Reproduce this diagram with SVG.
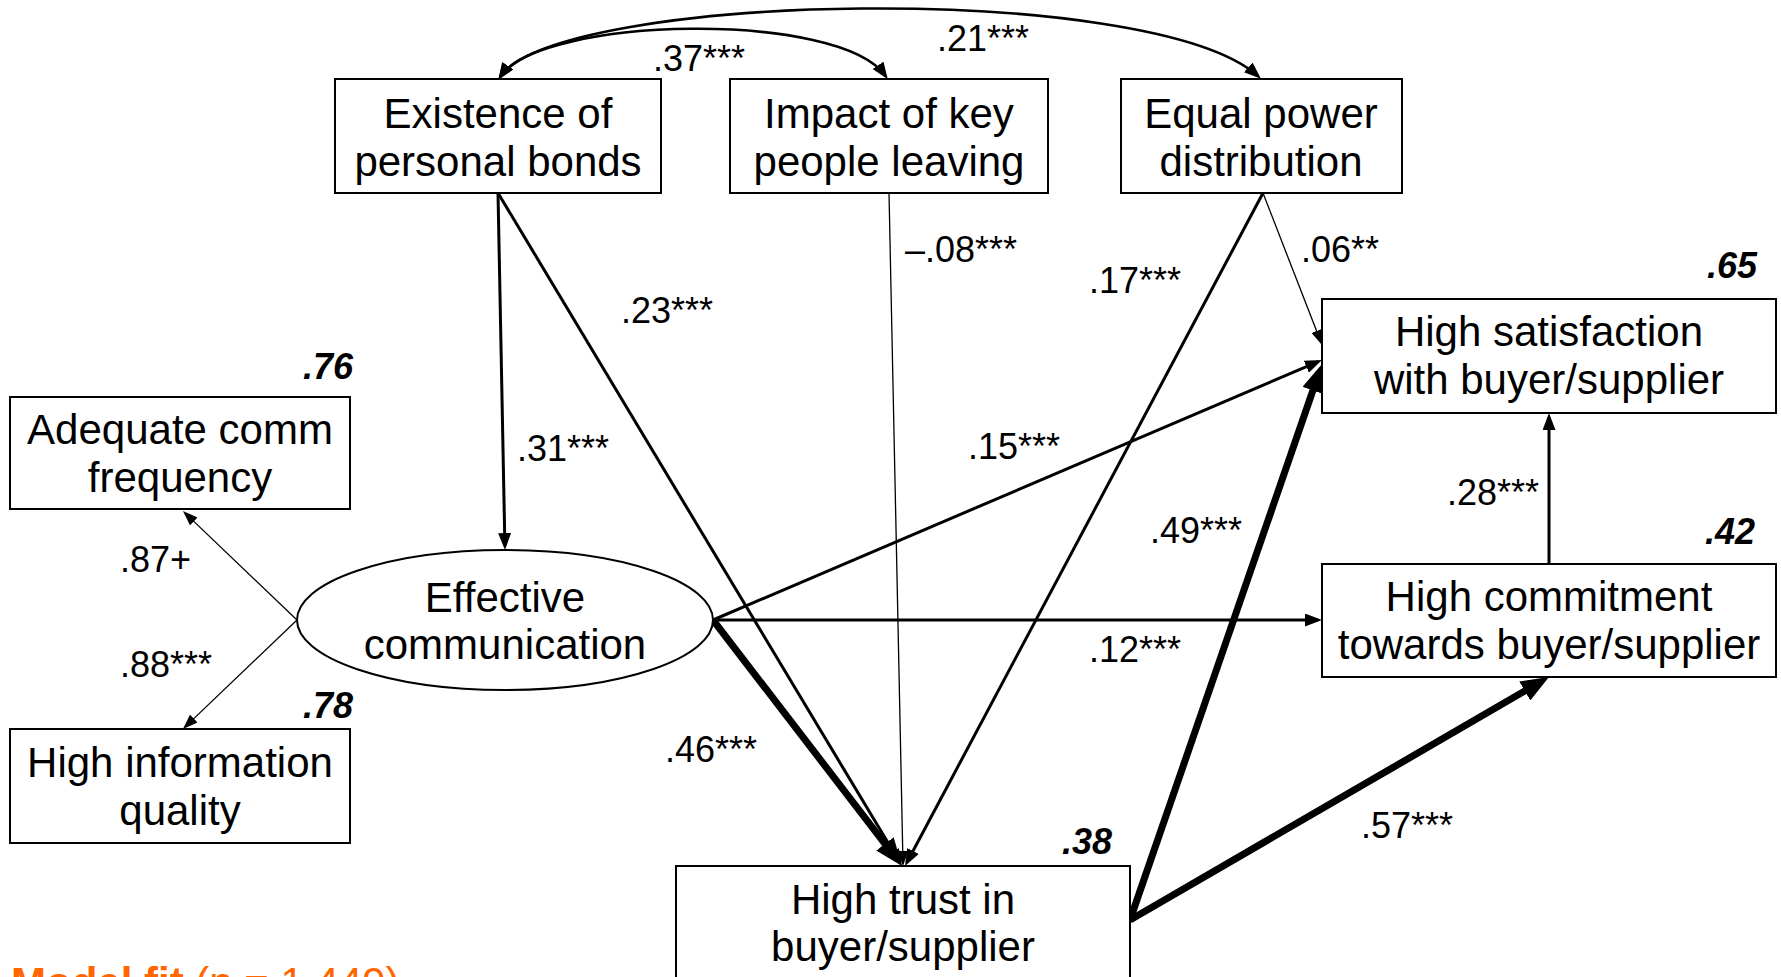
<svg xmlns="http://www.w3.org/2000/svg" width="1781" height="977" viewBox="0 0 1781 977">
  <style>
    .box { fill: #fff; stroke: #000; stroke-width: 2; }
    .t { font-family: "Liberation Sans", Arial, sans-serif; font-size: 42px; text-anchor: middle; fill: #000; }
    .lbl { font-family: "Liberation Sans", Arial, sans-serif; font-size: 36px; fill: #000; }
    .r2 { font-family: "Liberation Sans", Arial, sans-serif; font-size: 36px; font-weight: bold; font-style: italic; text-anchor: end; fill: #000; }
    .thin { fill: none; stroke: #000; stroke-width: 1.3; marker-end: url(#ahS); }
    .mid { fill: none; stroke: #000; stroke-width: 3; marker-end: url(#ahM); }
    .thick { fill: none; stroke: #000; stroke-width: 7; marker-end: url(#ahL); }
    .arc { fill: none; stroke: #000; stroke-width: 2.6; marker-start: url(#ahM); marker-end: url(#ahM); }
    .fit { font-family: "Liberation Sans", Arial, sans-serif; font-size: 42px; fill: #FF6600; }
  </style>
  <defs>
    <marker id="ahS" viewBox="0 0 15 11" refX="13" refY="5.5" markerWidth="15" markerHeight="11" orient="auto" markerUnits="userSpaceOnUse">
      <path d="M0,0 L15,5.5 L0,11 Z" fill="#000"/>
    </marker>
    <marker id="ahM" viewBox="0 0 17 13" refX="13" refY="6.5" markerWidth="17" markerHeight="13" orient="auto-start-reverse" markerUnits="userSpaceOnUse">
      <path d="M0,0 L17,6.5 L0,13 Z" fill="#000"/>
    </marker>
    <marker id="ahL" viewBox="0 0 28 22" refX="19" refY="11" markerWidth="28" markerHeight="22" orient="auto" markerUnits="userSpaceOnUse">
      <path d="M0,0 L28,11 L0,22 Z" fill="#000"/>
    </marker>
  </defs>

  <rect width="1781" height="977" fill="#fff"/>

  <!-- paths between constructs -->
  <g id="connectors">
    <!-- correlations among antecedents -->
    <path class="arc" d="M500.5,76.5 C560,-8 1150,-20 1258,76"/>
    <path class="arc" d="M500.5,76.5 C540,16 840,10 885.5,76"/>
    <!-- measurement paths -->
    <path class="thin" d="M297,620 L184.4,512.4"/>
    <path class="thin" d="M297,620 L184.4,727.6"/>
    <!-- structural paths -->
    <path class="mid" d="M498,193 L504.9,546"/>
    <path class="mid" d="M498,193 L899.9,862.6"/>
    <path class="thin" d="M889,193 L903,864"/>
    <path class="mid" d="M1263,193 L906.9,862.5"/>
    <path class="thin" d="M1263,193 L1321.3,343.1"/>
    <path class="mid" d="M713,620 L1318.3,361.6"/>
    <path class="mid" d="M713,620 L1318,620"/>
    <path class="thick" d="M713,620 L896.5,858.9"/>
    <path class="thick" d="M1130,920 L1319.1,372.5"/>
    <path class="thick" d="M1130,920 L1541.2,681.5"/>
    <path class="mid" d="M1549,564 L1549,417"/>
  </g>

  <g id="personal-bonds">
    <rect class="box" x="335" y="79" width="326" height="114"/>
    <text class="t" x="498" y="128">Existence of</text>
    <text class="t" x="498" y="176">personal bonds</text>
  </g>
  <g id="key-people">
    <rect class="box" x="730" y="79" width="318" height="114"/>
    <text class="t" x="889" y="128">Impact of key</text>
    <text class="t" x="889" y="176">people leaving</text>
  </g>
  <g id="power">
    <rect class="box" x="1121" y="79" width="281" height="114"/>
    <text class="t" x="1261" y="128">Equal power</text>
    <text class="t" x="1261" y="176">distribution</text>
  </g>
  <g id="comm-frequency">
    <rect class="box" x="10" y="397" width="340" height="112"/>
    <text class="t" x="180" y="444">Adequate comm</text>
    <text class="t" x="180" y="492">frequency</text>
  </g>
  <g id="info-quality">
    <rect class="box" x="10" y="729" width="340" height="114"/>
    <text class="t" x="180" y="777">High information</text>
    <text class="t" x="180" y="825">quality</text>
  </g>
  <g id="effective-communication">
    <ellipse cx="505" cy="620" rx="208" ry="70" fill="#fff" stroke="#000" stroke-width="2"/>
    <text class="t" x="505" y="612">Effective</text>
    <text class="t" x="505" y="659">communication</text>
  </g>
  <g id="trust">
    <rect class="box" x="676" y="866" width="454" height="116"/>
    <text class="t" x="903" y="914">High trust in</text>
    <text class="t" x="903" y="961">buyer/supplier</text>
  </g>
  <g id="satisfaction">
    <rect class="box" x="1322" y="299" width="454" height="114"/>
    <text class="t" x="1549" y="346">High satisfaction</text>
    <text class="t" x="1549" y="394">with buyer/supplier</text>
  </g>
  <g id="commitment">
    <rect class="box" x="1322" y="564" width="454" height="113"/>
    <text class="t" x="1549" y="611">High commitment</text>
    <text class="t" x="1549" y="659">towards buyer/supplier</text>
  </g>

  <!-- path coefficients -->
  <g id="coefficients">
    <text class="lbl" x="653" y="71">.37***</text>
    <text class="lbl" x="937" y="51">.21***</text>
    <text class="lbl" x="517" y="461">.31***</text>
    <text class="lbl" x="621" y="323">.23***</text>
    <text class="lbl" x="905" y="262">–.08***</text>
    <text class="lbl" x="1089" y="293">.17***</text>
    <text class="lbl" x="1301" y="262">.06**</text>
    <text class="lbl" x="968" y="459">.15***</text>
    <text class="lbl" x="1089" y="662">.12***</text>
    <text class="lbl" x="665" y="762">.46***</text>
    <text class="lbl" x="1150" y="543">.49***</text>
    <text class="lbl" x="1361" y="838">.57***</text>
    <text class="lbl" x="1447" y="505">.28***</text>
    <text class="lbl" x="120" y="572">.87+</text>
    <text class="lbl" x="120" y="677">.88***</text>
  </g>

  <!-- explained variance -->
  <g id="r-squared">
    <text class="r2" x="353" y="379">.76</text>
    <text class="r2" x="353" y="718">.78</text>
    <text class="r2" x="1112" y="854">.38</text>
    <text class="r2" x="1757" y="278">.65</text>
    <text class="r2" x="1755" y="544">.42</text>
  </g>

  <text class="fit" x="11" y="997"><tspan font-weight="bold">Model fit</tspan> (n = 1,449)</text>
</svg>
